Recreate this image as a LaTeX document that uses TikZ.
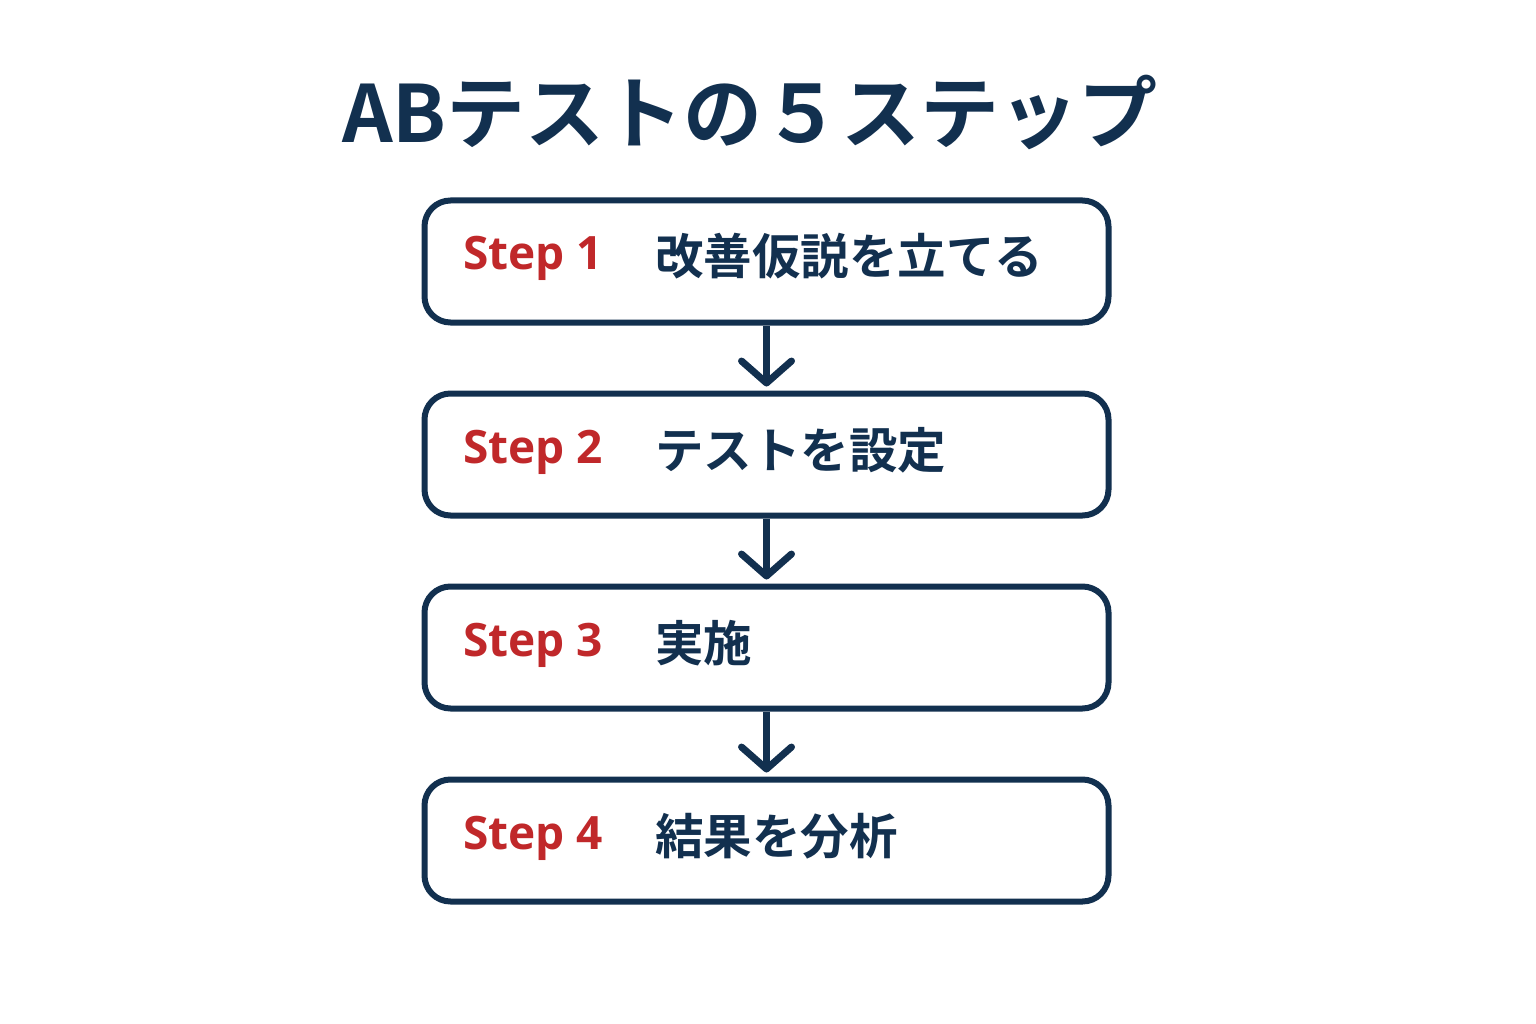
\documentclass[tikz,border=0pt]{standalone}
\usepackage{fontspec}
\newfontfamily\cjk{Noto Sans CJK JP}[BoldFont={* Bold}]
\newfontfamily\stepfont{Open Sans}
\usetikzlibrary{arrows.meta}
\definecolor{navy}{HTML}{12304F}
\definecolor{stepred}{HTML}{C0282A}
\tikzset{
  stepbox/.style={draw=navy, line width=6pt, rounded corners=26pt, minimum width=684pt, minimum height=122pt, fill=white},
  steplbl/.style={anchor=base west, text=stepred, font=\stepfont\bfseries\fontsize{46}{46}\selectfont, inner sep=0pt},
  jplbl/.style={anchor=base west, text=navy, font=\cjk\bfseries\fontsize{48.5}{48}\selectfont, inner sep=0pt},
  flow/.style={draw=navy, line width=7pt, -{Straight Barb[length=22pt, width=50pt, line width=7pt, round]}, shorten >=4pt},
}
\begin{document}
\begin{tikzpicture}[x=1pt,y=-1pt]
\useasboundingbox (0,0) rectangle (1536,1024);
\node[anchor=base, text=navy, font=\cjk\bfseries\fontsize{79}{79}\selectfont, inner sep=0pt] (title) at (750,143) {ABテストの５ステップ};
\node[stepbox] (b1) at (766.5,261.5) {};
\node[stepbox] (b2) at (766.5,454.5) {};
\node[stepbox] (b3) at (766.5,647.5) {};
\node[stepbox] (b4) at (766.5,840.5) {};
\node[steplbl] (s1) at (463,270) {Step 1};
\node[steplbl] (s2) at (463,463) {Step 2};
\node[steplbl] (s3) at (463,656) {Step 3};
\node[steplbl] (s4) at (463,849) {Step 4};
\node[jplbl] (t1) at (655,275) {改善仮説を立てる};
\node[jplbl] (t2) at (655,468) {テストを設定};
\node[jplbl] (t3) at (655,661) {実施};
\node[jplbl] (t4) at (655,854) {結果を分析};
\draw[flow] (b1.south) -- (b2.north);
\draw[flow] (b2.south) -- (b3.north);
\draw[flow] (b3.south) -- (b4.north);
\end{tikzpicture}
\end{document}
